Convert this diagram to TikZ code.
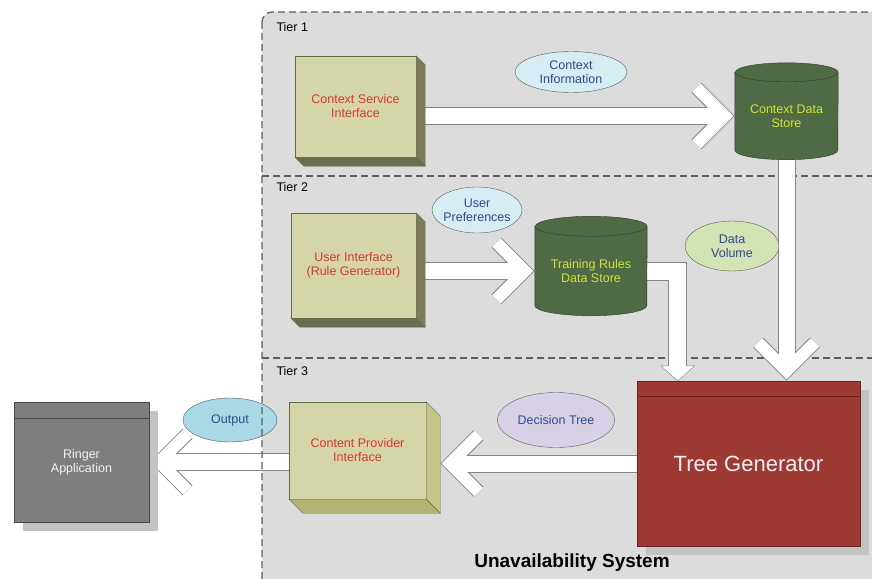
\documentclass[tikz,border=0pt]{standalone}
\usepackage{fontspec}
\setmainfont{Liberation Sans}
\usetikzlibrary{positioning,calc,shapes.geometric,shadows}

\definecolor{panelgray}{HTML}{DCDCDC}
\definecolor{framegray}{HTML}{5E5E5E}
\definecolor{slabfront}{HTML}{D5D5AA}
\definecolor{slabline}{HTML}{5F6F45}
\definecolor{slabside}{HTML}{7B7B5C}
\definecolor{slabbottom}{HTML}{6C6C50}
\definecolor{slabsidelt}{HTML}{C5C48A}
\definecolor{slabbottomlt}{HTML}{B4B374}
\definecolor{ifacered}{HTML}{D23A32}
\definecolor{drumgreen}{HTML}{4F6B45}
\definecolor{drumline}{HTML}{2C3B27}
\definecolor{drumtext}{HTML}{D4E03A}
\definecolor{notetext}{HTML}{2E4A8C}
\definecolor{noteline}{HTML}{5A5A5A}
\definecolor{infoblue}{HTML}{D6EDF3}
\definecolor{volgreen}{HTML}{D4E3B3}
\definecolor{treelilac}{HTML}{D8D1E5}
\definecolor{outblue}{HTML}{A9D8E7}
\definecolor{treered}{HTML}{9D3A34}
\definecolor{treeline}{HTML}{6A2420}
\definecolor{appgray}{HTML}{7E7E7E}
\definecolor{appline}{HTML}{484848}
\definecolor{shadowgray}{HTML}{C3C3C3}
\definecolor{rimgray}{HTML}{858585}

\pgfdeclarelayer{back}
\pgfdeclarelayer{flow}
\pgfdeclarelayer{body}
\pgfsetlayers{back,flow,body,main}

\newcommand{\notefont}{\fontsize{12.5}{14}\selectfont}

% open block arrow: shaft from #1, chevron tip at #2
\newcommand{\flowarrow}[2]{%
  \coordinate (fv) at ($(#2)!10pt!(#1)$);
  \coordinate (fa) at ($(fv)!40pt!45:(#1)$);
  \coordinate (fb) at ($(fv)!40pt!-45:(#1)$);
  \draw[rim, line width=18pt] (#1) -- ($(#2)!14pt!(#1)$);
  \draw[rim, line width=14pt, line join=miter] (fa) -- (fv) -- (fb);
  \draw[core, line width=16pt] (#1) -- ($(#2)!14pt!(#1)$);
  \draw[core, line width=12pt, line join=miter] (fa) -- (fv) -- (fb);
}

% side and bottom faces of a raised box
\newcommand{\slabdepth}[4]{%
  \filldraw[draw=slabline, fill=#3] (#1.north east) -- ++(#2,#2) -- ($(#1.south east)+(#2,#2)$) -- (#1.south east) -- cycle;
  \filldraw[draw=slabline, fill=#4] (#1.south west) -- ++(#2,#2) -- ($(#1.south east)+(#2,#2)$) -- (#1.south east) -- cycle;
}

% data store body: top cap centred on the node's north side
\newcommand{\drumbody}[3]{%
  \begin{pgfonlayer}{body}
  \filldraw[fill=drumgreen, draw=drumline] (#1.north west) -- ($(#1.south west)+(0,-#3)$)
    arc[start angle=180, end angle=360, x radius=#2pt, y radius=#3pt]
    -- (#1.north east)
    arc[start angle=0, end angle=180, x radius=#2pt, y radius=#3pt] -- cycle;
  \draw[drumline] (#1.north west) arc[start angle=180, end angle=360, x radius=#2pt, y radius=#3pt];
  \end{pgfonlayer}
}

\begin{document}
\begin{tikzpicture}[
  x=1pt, y=-1pt,
  every node/.style={font=\notefont},
  tierlabel/.style={anchor=west, text=black},
  slab/.style={rectangle, draw=slabline, fill=slabfront, text=ifacered, align=center, inner sep=0pt},
  drumnode/.style={rectangle, text=drumtext, align=center, inner sep=0pt},
  note/.style={ellipse, draw=noteline, text=notetext, align=center, inner sep=-2pt},
  block/.style={rectangle, align=center, inner sep=0pt, drop shadow={shadow xshift=9pt, shadow yshift=-9pt, fill=shadowgray, opacity=1}},
  rim/.style={draw=rimgray},
  core/.style={draw=white},
  frame/.style={draw=framegray, line width=1.3pt, dash pattern=on 7pt off 4pt}
  ]

\useasboundingbox (0,0) rectangle (872,578);
\clip (0,0) rectangle (872,578);

\begin{pgfonlayer}{back}
  \fill[white] (0,0) rectangle (872,578);
  \fill[panelgray, rounded corners=10pt] (262,12) rectangle (884,590);
  \draw[frame] (262,176) -- (872,176);
  \draw[frame] (262,358) -- (872,358);
\end{pgfonlayer}

\node[tierlabel] (tier1) at (273,27) {Tier 1};
\node[tierlabel] (tier2) at (273,187) {Tier 2};
\node[tierlabel] (tier3) at (273,371) {Tier 3};

% tier 1
\node[slab, minimum width=121pt, minimum height=101pt] (csi) at (355.5,106.5) {Context Service\\Interface};
\slabdepth{csi}{9}{slabside}{slabbottom}
\node[drumnode, minimum width=103pt, minimum height=87pt] (cds) at (786.5,116) {Context Data\\Store};
\drumbody{cds}{51.5}{9.5}
\node[note, fill=infoblue, minimum width=112pt, minimum height=41pt] (cinfo) at (571,72) {Context\\Information};

% tier 2
\node[slab, minimum width=125pt, minimum height=105pt] (ui) at (353.5,265.5) {User Interface\\(Rule Generator)};
\slabdepth{ui}{9}{slabside}{slabbottom}
\node[drumnode, minimum width=112pt, minimum height=89pt] (trds) at (591,271) {Training Rules\\Data Store};
\drumbody{trds}{56}{10}
\node[note, fill=infoblue, minimum width=90pt, minimum height=46pt] (upref) at (477,210) {User\\Preferences};
\node[note, fill=volgreen, minimum width=94pt, minimum height=50pt] (dvol) at (732,246) {Data\\Volume};

% tier 3
\node[block, fill=treered, draw=treeline, text=white!92!treered, minimum width=223pt, minimum height=165pt, font=\fontsize{22}{26}\selectfont] (tg) at (748.5,463.5) {Tree Generator};
\draw[treeline, line width=1.2pt] ($(tg.north west)+(0,16)$) -- ($(tg.north east)+(0,16)$);
\node[slab, fill=slabfront, minimum width=137pt, minimum height=97pt] (cpi) at (357.5,450.5) {Content Provider\\Interface};
\slabdepth{cpi}{14}{slabsidelt}{slabbottomlt}
\node[note, fill=treelilac, minimum width=117pt, minimum height=55pt] (dtree) at (556,420) {Decision Tree};
\node[block, fill=appgray, draw=appline, text=white!90!gray, minimum width=135pt, minimum height=120pt] (ringer) at (81.5,462) {Ringer\\Application};
\draw[appline] ($(ringer.north west)+(0,16)$) -- ($(ringer.north east)+(0,16)$);
\node[note, fill=outblue, minimum width=94pt, minimum height=44pt] (outp) at (230,420) {Output};

\node[font=\bfseries\fontsize{19}{22}\selectfont] (systitle) at (572,563) {Unavailability System};

\begin{pgfonlayer}{flow}
  \coordinate (a1) at (csi.east |- cds.west);
  \flowarrow{a1}{cds.west}
  \coordinate (a2) at (ui.east |- trds.west);
  \flowarrow{a2}{trds.west}
  \coordinate (a4) at (tg.north -| cds.south);
  \flowarrow{cds.south}{a4}
  \coordinate (a5) at ($(cpi.east |- tg.west)+(14,0)$);
  \flowarrow{tg.west}{a5}
  \coordinate (a6) at (cpi.west |- ringer.east);
  \flowarrow{a6}{ringer.east}
  % elbow from the rules store down into the generator
  \coordinate (drop) at ($(tg.north west)+(41,0)$);
  \draw[rim, line width=19pt, line join=miter] (trds.east) -| ($(drop)+(0,-15)$);
  \filldraw[fill=white, draw=rimgray] ($(drop)+(-17,-15)$) -- ($(drop)+(17,-15)$) -- (drop) -- cycle;
  \draw[core, line width=17pt, line join=miter] (trds.east) -| ($(drop)+(0,-13)$);
\end{pgfonlayer}

\draw[frame, rounded corners=10pt] (262,12) rectangle (884,590);

\end{tikzpicture}
\end{document}
